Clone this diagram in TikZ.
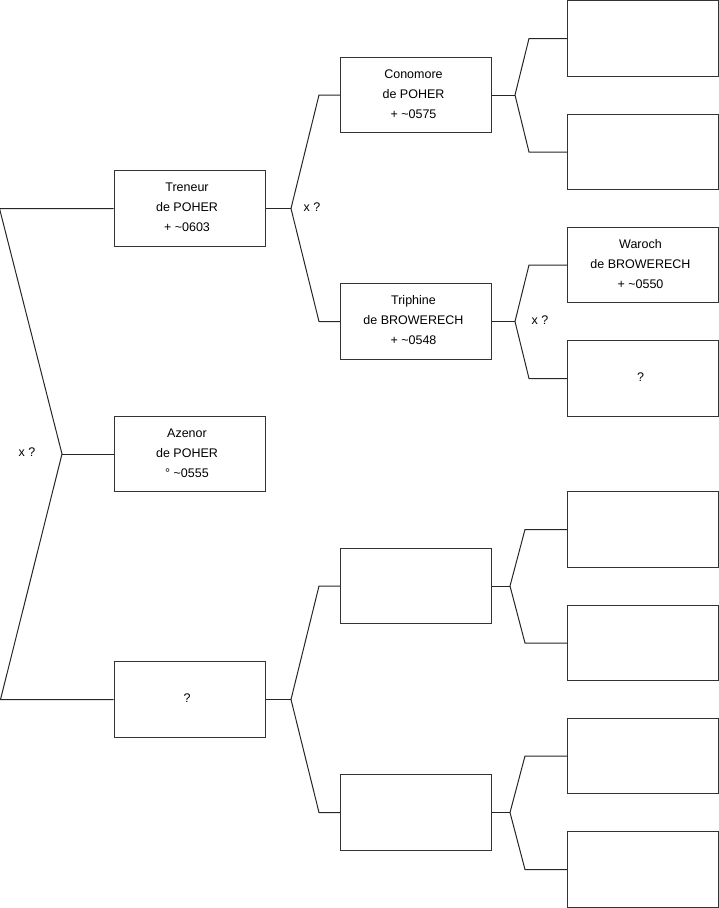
\documentclass[tikz,border=0pt]{standalone}
\usepackage{fontspec}
\setmainfont{Liberation Sans}
\begin{document}
\begin{tikzpicture}[x=1pt,y=-1pt,
  person/.style={draw=black!80, line width=1pt, minimum width=151pt, minimum height=75.5pt,
    inner sep=0pt},
  ptext/.style={align=center, font=\fontsize{12.5}{20}\selectfont, inner sep=0pt,
    xshift=-2.5pt, yshift=1pt},
  link/.style={draw=black!85, line width=1pt},
  lbl/.style={font=\fontsize{12.5}{15}\selectfont, inner sep=0pt}]
\useasboundingbox (0,0) rectangle (719,908);
% column 1
\node[person, label={[ptext]center:Treneur\\de POHER\\+ \textasciitilde0603}] (tre) at (189.5,208.5) {};
\node[person, label={[ptext]center:Azenor\\de POHER\\° \textasciitilde0555}] (aze) at (189.5,454) {};
\node[person, label={[ptext]center:?}] (unk) at (189.5,699.5) {};
% column 2
\node[person, label={[ptext]center:Conomore\\de POHER\\+ \textasciitilde0575}] (con) at (416,95) {};
\node[person, label={[ptext]center:Triphine\\de BROWERECH\\+ \textasciitilde0548}] (tri) at (416,321.5) {};
\node[person] (b1) at (416,586) {};
\node[person] (b2) at (416,812.5) {};
% column 3
\node[person] (c1) at (643,38.5) {};
\node[person] (c2) at (643,152) {};
\node[person, label={[ptext]center:Waroch\\de BROWERECH\\+ \textasciitilde0550}] (war) at (643,265) {};
\node[person, label={[ptext]center:?}] (c4) at (643,378.5) {};
\node[person] (c5) at (643,529.5) {};
\node[person] (c6) at (643,643) {};
\node[person] (c7) at (643,756) {};
\node[person] (c8) at (643,869.5) {};
% labels
\node[lbl] (x0) at (27,452) {x ?};
\node[lbl] (x1) at (312,207) {x ?};
\node[lbl] (x2) at (540,320) {x ?};
% bracket vertices
\coordinate (v0) at (62,454);
\coordinate (v1) at (291,208.5);
\coordinate (v2) at (291,699.5);
\coordinate (v3) at (515,95);
\coordinate (v4) at (515,321.5);
\coordinate (v5) at (510,586);
\coordinate (v6) at (510,812.5);
% connectors
\draw[link] (tre.west) -- ++(-114,0) -- (v0) -- ([xshift=-113pt]unk.west) -- (unk.west);
\draw[link] (v0) -- (aze.west);
\draw[link] (con.west) -- ++(-21,0) -- (v1) -- ([xshift=-21pt]tri.west) -- (tri.west);
\draw[link] (tre.east) -- (v1);
\draw[link] (b1.west) -- ++(-21,0) -- (v2) -- ([xshift=-21pt]b2.west) -- (b2.west);
\draw[link] (unk.east) -- (v2);
\draw[link] (c1.west) -- ++(-38,0) -- (v3) -- ([xshift=-38pt]c2.west) -- (c2.west);
\draw[link] (con.east) -- (v3);
\draw[link] (war.west) -- ++(-38,0) -- (v4) -- ([xshift=-38pt]c4.west) -- (c4.west);
\draw[link] (tri.east) -- (v4);
\draw[link] (c5.west) -- ++(-42,0) -- (v5) -- ([xshift=-42pt]c6.west) -- (c6.west);
\draw[link] (b1.east) -- (v5);
\draw[link] (c7.west) -- ++(-42,0) -- (v6) -- ([xshift=-42pt]c8.west) -- (c8.west);
\draw[link] (b2.east) -- (v6);
\end{tikzpicture}
\end{document}
